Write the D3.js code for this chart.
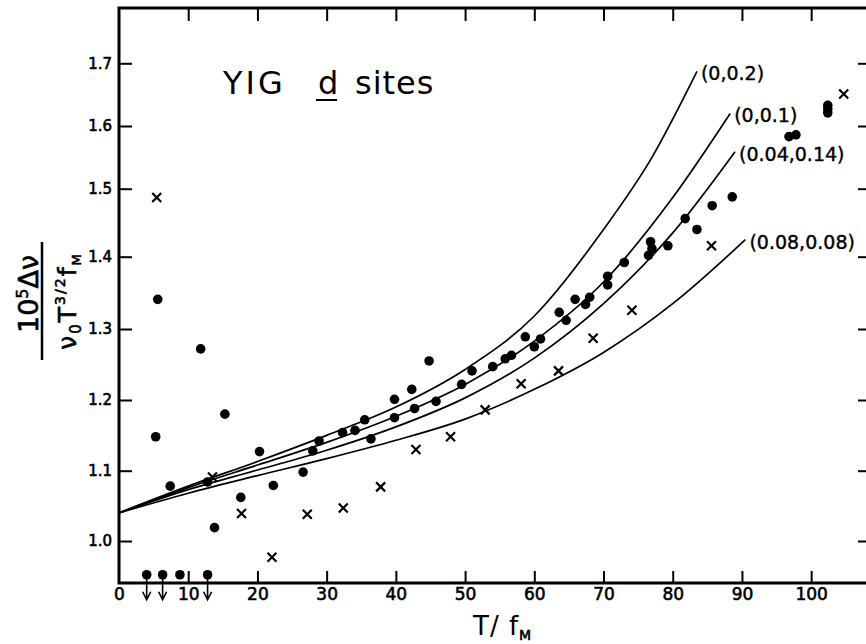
<!DOCTYPE html>
<html>
<head>
<meta charset="utf-8">
<script src="https://cdn.jsdelivr.net/npm/d3@7"></script>
<style>
  body { margin: 0; background: #fff; }
  text { font-family: "DejaVu Sans", sans-serif; fill: #000; }
</style>
</head>
<body>
<svg id="chart" width="866" height="644"></svg>
<script>
// values (T/fM, normalised linewidth)
var dots = [
  [5.3,1.148],[5.6,1.341],[7.4,1.078],[11.8,1.272],[12.8,1.084],[13.8,1.019],
  [15.3,1.180],[17.6,1.062],[20.3,1.127],[22.3,1.079],[26.6,1.098],[28.0,1.128],
  [28.9,1.142],[32.3,1.154],[34.1,1.157],[35.5,1.172],[36.4,1.145],[39.8,1.201],
  [39.8,1.175],[42.3,1.215],[42.7,1.188],[44.8,1.255],[45.8,1.198],[49.5,1.222],
  [51.0,1.241],[54.0,1.247],[55.8,1.258],[56.7,1.263],[58.7,1.289],[60.0,1.275],
  [60.9,1.286],[63.6,1.323],[64.6,1.312],[65.9,1.341],[67.4,1.334],[68.0,1.344],
  [70.6,1.373],[70.6,1.361],[73.0,1.392],[76.8,1.422],[77.0,1.412],[76.5,1.402],
  [79.3,1.416],[81.8,1.456],[83.5,1.440],[85.7,1.475],[88.6,1.488],[96.8,1.583],
  [97.8,1.586],[102.4,1.633],[102.4,1.627],[102.4,1.621]
];
var crosses = [
  [5.45,1.487],[13.5,1.091],[17.7,1.039],[22.1,0.977],[27.2,1.038],[32.4,1.047],
  [37.8,1.077],[42.9,1.130],[47.9,1.148],[52.9,1.186],[58.1,1.223],[63.5,1.241],
  [68.5,1.287],[74.1,1.326],[85.6,1.416],[104.7,1.651]
];
// upper limits: [T, value, has arrow]
var limits = [[4.0,0.952,1],[6.3,0.952,1],[8.8,0.952,0],[12.8,0.952,1]];

var curveA = [[0,1.04],[10,1.078],[20,1.113],[30,1.150],[40,1.190],[50,1.243],[60,1.318],[70,1.440],[77,1.550],[83.5,1.687]];
var curveB = [[0,1.04],[10,1.076],[20,1.108],[30,1.140],[40,1.177],[50,1.222],[60,1.283],[70,1.365],[80,1.487],[88.3,1.620]];
var curveC = [[0,1.04],[10,1.073],[20,1.101],[30,1.129],[40,1.162],[50,1.203],[60,1.259],[70,1.335],[80,1.435],[89,1.559]];
var curveD = [[0,1.04],[10,1.068],[20,1.093],[30,1.117],[40,1.143],[50,1.173],[60,1.215],[70,1.267],[80,1.335],[90.5,1.425]];
var curveNames = ["(0,0.2)", "(0,0.1)", "(0.04,0.14)", "(0.08,0.08)"];

var xTicks = [0,10,20,30,40,50,60,70,80,90,100];
var yTicks = [1.0,1.1,1.2,1.3,1.4,1.5,1.6,1.7];

// layout
var svg = d3.select("#chart");
var top_ = 8, bottom = 583, right = 870;
var x = d3.scaleLinear().domain([0, 108.5]).range([119, right]);
// the scanned axis is slightly uneven, so map tick by tick
var y = d3.scaleLinear().domain(yTicks).range([541, 470.7, 400, 329, 256.7, 188.7, 126, 63.3]);

function styleAxis(g, fs) {
  g.select(".domain").remove();
  g.selectAll(".tick line").attr("stroke", "#000").attr("stroke-width", 2);
  g.selectAll(".tick text").attr("font-size", fs).attr("fill", "#000")
    .attr("stroke", "#000").attr("stroke-width", 0.6)
    .attr("font-family", "DejaVu Sans, sans-serif");
}

svg.append("g").attr("transform", "translate(0," + bottom + ")")
  .call(d3.axisBottom(x).tickValues(xTicks).tickSizeInner(-12).tickSizeOuter(0).tickPadding(5).tickFormat(d3.format("d")))
  .call(function(g) { styleAxis(g, 17); g.selectAll(".tick").filter(function(d){return d === 0;}).select("line").remove(); });

svg.append("g").attr("transform", "translate(0," + top_ + ")")
  .call(d3.axisTop(x).tickValues(xTicks.slice(1)).tickSizeInner(-13).tickSizeOuter(0).tickFormat(""))
  .call(function(g) { styleAxis(g, 0); });

svg.append("g").attr("transform", "translate(" + x(0) + ",0)")
  .call(d3.axisLeft(y).tickValues(yTicks).tickSizeInner(-13).tickSizeOuter(0).tickPadding(7).tickFormat(d3.format(".1f")))
  .call(function(g) { styleAxis(g, 15); });

svg.append("g").attr("transform", "translate(" + right + ",0)")
  .call(d3.axisRight(y).tickValues(yTicks).tickSizeInner(-12).tickSizeOuter(0).tickFormat(""))
  .call(function(g) { styleAxis(g, 0); });

// frame
svg.append("path")
  .attr("d", "M" + right + "," + top_ + "H" + x(0) + "V" + bottom + "H" + right)
  .attr("fill", "none").attr("stroke", "#000").attr("stroke-width", 3);

// model curves
var line = d3.line().x(function(d){return x(d[0]);}).y(function(d){return y(d[1]);}).curve(d3.curveMonotoneX);
var curves = [curveA, curveB, curveC, curveD];
svg.selectAll(".curve").data(curves).enter().append("path")
  .attr("class", "curve")
  .attr("d", line)
  .attr("fill", "none").attr("stroke", "#000").attr("stroke-width", 1.7);

svg.selectAll(".clabel").data(curves).enter().append("text")
  .attr("class", "clabel")
  .attr("x", function(d){ return x(d[d.length-1][0]) + 4; })
  .attr("y", function(d){ return y(d[d.length-1][1]) + 2; })
  .attr("dominant-baseline", "central")
  .attr("font-size", 19)
  .attr("stroke", "#000").attr("stroke-width", 0.4)
  .text(function(d, i){ return curveNames[i]; });

// data points
svg.selectAll(".dot").data(dots).enter().append("circle")
  .attr("cx", function(d){return x(d[0]);})
  .attr("cy", function(d){return y(d[1]);})
  .attr("r", 4.8).attr("fill", "#000");

var s = 4.5;
svg.selectAll(".cross").data(crosses).enter().append("path")
  .attr("d", function(d){
    var cx = x(d[0]), cy = y(d[1]);
    return "M" + (cx-s) + "," + (cy-s) + "L" + (cx+s) + "," + (cy+s) +
           "M" + (cx-s) + "," + (cy+s) + "L" + (cx+s) + "," + (cy-s);
  })
  .attr("stroke", "#000").attr("stroke-width", 2.2).attr("fill", "none");

var lim = svg.selectAll(".lim").data(limits).enter().append("g");
lim.append("circle")
  .attr("cx", function(d){return x(d[0]);})
  .attr("cy", function(d){return y(d[1]);})
  .attr("r", 4.8).attr("fill", "#000");
lim.filter(function(d){return d[2];}).append("path")
  .attr("d", function(d){
    var cx = x(d[0]), cy = y(d[1]), tip = cy + 25;
    return "M" + cx + "," + cy + "V" + tip + "M" + (cx-4) + "," + (tip-8) + "L" + cx + "," + tip + "L" + (cx+4) + "," + (tip-8);
  })
  .attr("stroke", "#000").attr("stroke-width", 1.6).attr("fill", "none");

// title
svg.append("text").attr("x", 223).attr("y", 94).attr("font-size", 32).attr("letter-spacing", 3).text("YIG");
svg.append("text").attr("x", 318).attr("y", 94).attr("font-size", 32).text("d");
svg.append("line").attr("x1", 316).attr("x2", 337).attr("y1", 100).attr("y2", 100).attr("stroke", "#000").attr("stroke-width", 2);
svg.append("text").attr("x", 355).attr("y", 94).attr("font-size", 32).attr("letter-spacing", 1).text("sites");

// x axis title
var xt = svg.append("text").attr("x", 473).attr("y", 635).attr("font-size", 26).attr("letter-spacing", 1);
xt.append("tspan").text("T/ f");
xt.append("tspan").attr("font-size", 14).attr("dy", 5).attr("stroke", "#000").attr("stroke-width", 0.6).text("M");

// y axis title as a fraction
var yt = svg.append("g").attr("transform", "translate(42,301) rotate(-90)");
yt.append("line").attr("x1", -59).attr("x2", 59).attr("y1", 0).attr("y2", 0).attr("stroke", "#000").attr("stroke-width", 2.5);
var num = yt.append("text").attr("x", 7).attr("y", -4).attr("text-anchor", "middle").attr("font-size", 27)
  .attr("stroke", "#000").attr("stroke-width", 0.6);
num.append("tspan").text("10");
num.append("tspan").attr("font-size", 16).attr("dy", -10).text("5");
num.append("tspan").attr("dy", 10).text("\u0394\u03bd");
var den = yt.append("text").attr("x", 0).attr("y", 34).attr("text-anchor", "middle").attr("font-size", 25).attr("letter-spacing", 2)
  .attr("stroke", "#000").attr("stroke-width", 0.6);
den.append("tspan").text("\u03bd");
den.append("tspan").attr("font-size", 15).attr("dy", 5).text("0");
den.append("tspan").attr("dy", -5).text("T");
den.append("tspan").attr("font-size", 14).attr("dy", -11).text("3/2");
den.append("tspan").attr("dy", 11).text("f");
den.append("tspan").attr("font-size", 13).attr("dy", 5).text("M");
</script>
</body>
</html>
